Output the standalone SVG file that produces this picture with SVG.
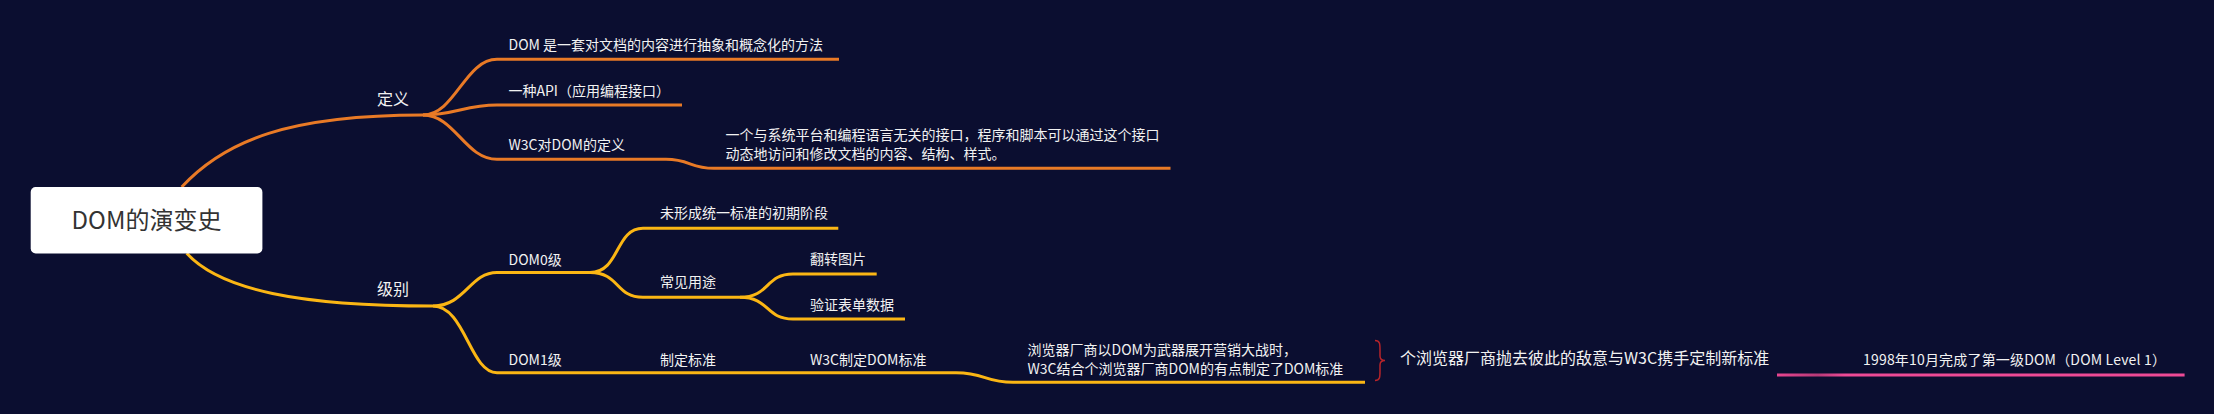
<svg xmlns="http://www.w3.org/2000/svg" width="2214" height="414" viewBox="0 0 2214 414">
<defs>
<style>
text{font-family:"Noto Sans CJK SC","Noto Sans",sans-serif;fill:#f2f2f2}
.t14{font-size:14px}
.t16{font-size:16px}
.root{font-size:24px;fill:#333333}
.or{fill:none;stroke:#e97a26;stroke-width:3;stroke-linecap:butt}
.ye{fill:none;stroke:#fbb614;stroke-width:3;stroke-linecap:butt}
.br{fill:none;stroke:#b8242a;stroke-width:1.5}
</style>
<linearGradient id="pk" x1="1777" y1="0" x2="1845" y2="0" gradientUnits="userSpaceOnUse">
<stop offset="0" stop-color="#e84590"/>
<stop offset="0.6" stop-color="#b83a78"/>
<stop offset="1" stop-color="#ee4a96"/>
</linearGradient>
</defs>
<rect x="0" y="0" width="2214" height="414" fill="#0b0e30"/>
<g id="connectors">
<path class="or" d="M181.7,187 C225,140 290,115 423,115"/>
<path class="or" d="M423,115 C455,115 465,59.3 497,59.3 L839,59.3"/>
<path class="or" d="M423,115 C455,115 465,105 497,105 L682,105"/>
<path class="or" d="M423,115 C455,115 465,159.3 497,159.3 L666,159.3 C690,159.3 690,168.3 714,168.3 L1170.5,168.3"/>
<path class="ye" d="M186.7,253.3 C220,290 300,306 433,306"/>
<path class="ye" d="M433,306 C465,306 470,272.5 497,272.5 L590,272.5"/>
<path class="ye" d="M433,306 C465,306 470,372.7 497,372.7 L956,372.7 C985,372.7 985,382.3 1013,382.3 L1365,382.3"/>
<path class="ye" d="M590,272.5 C620,272.5 615,228.3 643,228.3 L838.3,228.3"/>
<path class="ye" d="M590,272.5 C620,272.5 615,297.3 643,297.3 L740,297.3"/>
<path class="ye" d="M740,297.3 C770,297.3 765,274 793,274 L876.7,274"/>
<path class="ye" d="M740,297.3 C770,297.3 765,319 793,319 L905,319"/>
<path class="br" d="M1375,340.5 C1380,340.5 1380,344 1380,350 L1380,356 C1380,359 1382,360.5 1385,360.5 C1382,360.5 1380,362 1380,365 L1380,371 C1380,377 1380,380.5 1375,380.5"/>
<path d="M1777,375 L2184.6,375" fill="none" stroke="url(#pk)" stroke-width="3"/>
</g>
<g id="root">
<rect x="30.7" y="187" width="231.7" height="66.5" rx="5" fill="#ffffff"/>
<text class="root" x="146.5" y="229" text-anchor="middle">DOM的演变史</text>
</g>
<g id="n-dingyi"><text class="t16" x="377" y="105">定义</text></g>
<g id="n-dom-method"><text class="t14" x="508.5" y="49.5">DOM 是一套对文档的内容进行抽象和概念化的方法</text></g>
<g id="n-api"><text class="t14" x="508.5" y="96">一种API（应用编程接口）</text></g>
<g id="n-w3c-def"><text class="t14" x="508.5" y="150">W3C对DOM的定义</text></g>
<g id="n-w3c-desc"><text class="t14" x="725.5" y="140">一个与系统平台和编程语言无关的接口，程序和脚本可以通过这个接口</text><text class="t14" x="725.5" y="158.5">动态地访问和修改文档的内容、结构、样式。</text></g>
<g id="n-jibie"><text class="t16" x="377" y="295">级别</text></g>
<g id="n-dom0"><text class="t14" x="508.5" y="265">DOM0级</text></g>
<g id="n-early"><text class="t14" x="660" y="218">未形成统一标准的初期阶段</text></g>
<g id="n-usage"><text class="t14" x="660" y="287">常见用途</text></g>
<g id="n-flip"><text class="t14" x="810" y="264">翻转图片</text></g>
<g id="n-validate"><text class="t14" x="810" y="309.5">验证表单数据</text></g>
<g id="n-dom1"><text class="t14" x="508.5" y="365">DOM1级</text></g>
<g id="n-make"><text class="t14" x="660" y="364.5">制定标准</text></g>
<g id="n-w3c-std"><text class="t14" x="810" y="365">W3C制定DOM标准</text></g>
<g id="n-browser"><text class="t14" x="1027.5" y="355">浏览器厂商以DOM为武器展开营销大战时，</text><text class="t14" x="1027.5" y="374">W3C结合个浏览器厂商DOM的有点制定了DOM标准</text></g>
<g id="n-summary"><text class="t16" x="1400" y="364">个浏览器厂商抛去彼此的敌意与W3C携手定制新标准</text></g>
<g id="n-1998"><text class="t14" x="1863" y="365" textLength="303" lengthAdjust="spacing">1998年10月完成了第一级DOM（DOM Level 1）</text></g>
</svg>
